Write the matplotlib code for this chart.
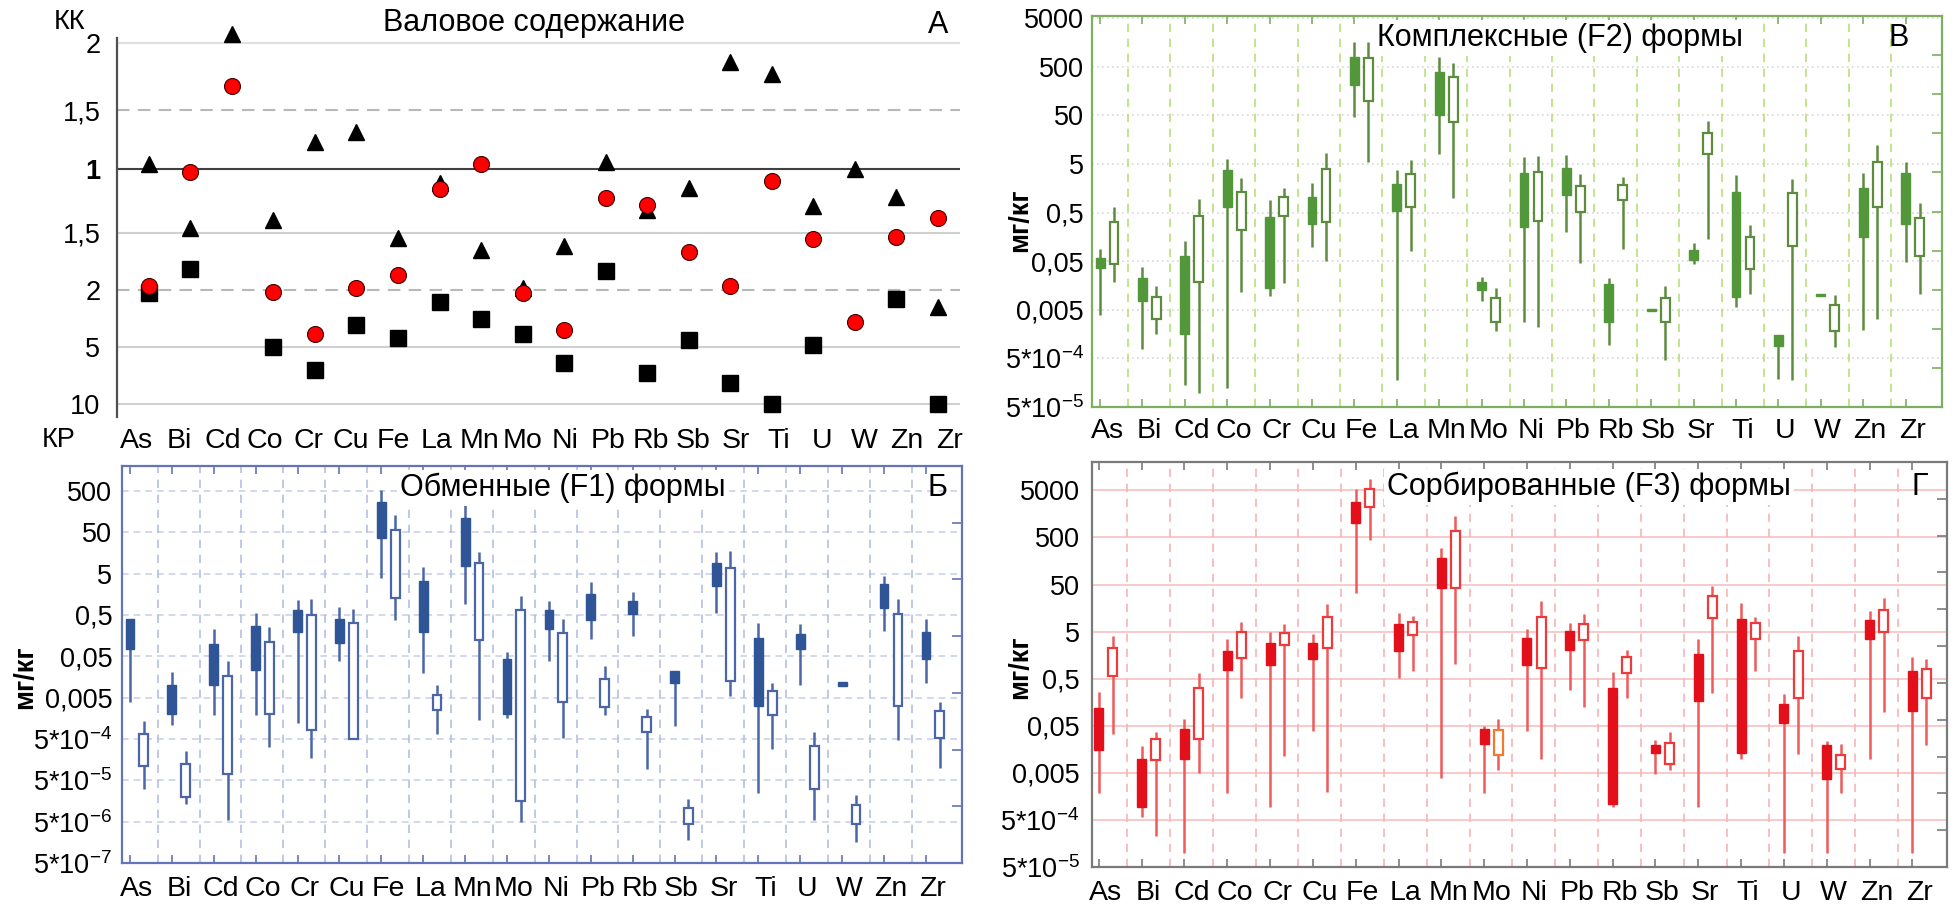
import numpy as np
import matplotlib
matplotlib.use("Agg")
import matplotlib.pyplot as plt

plt.rcParams['font.family'] = ['Liberation Sans', 'DejaVu Sans']
plt.rcParams['mathtext.fontset'] = 'custom'
plt.rcParams['mathtext.rm'] = 'Liberation Sans'
plt.rcParams['mathtext.it'] = 'Liberation Sans:italic'
plt.rcParams['mathtext.bf'] = 'Liberation Sans:bold'

# ---------------- data ----------------
elements = ['As', 'Bi', 'Cd', 'Co', 'Cr', 'Cu', 'Fe', 'La', 'Mn', 'Mo',
            'Ni', 'Pb', 'Rb', 'Sb', 'Sr', 'Ti', 'U', 'W', 'Zn', 'Zr']

# Panel A: ratio to background (>1 -> KK, <1 -> 1/KP)
gross_triangle = [1.04, 0.685, 2.07, 0.714, 1.23, 1.31, 0.649, 0.90, 0.606, 0.505,
                  0.621, 1.06, 0.758, 0.87, 1.86, 1.77, 0.775, 1.0, 0.82, 0.346]
gross_circle = [0.51, 0.98, 1.68, 0.476, 0.233, 0.505, 0.535, 0.862, 1.04, 0.463,
                0.244, 0.813, 0.78, 0.60, 0.51, 0.917, 0.645, 0.27, 0.65, 0.725]
gross_square = [0.463, 0.552, np.nan, 0.20, 0.143, 0.26, 0.222, 0.38, 0.283, 0.233,
                0.156, 0.546, 0.137, 0.217, 0.122, 0.10, 0.204, np.nan, 0.405, 0.10]

# Panel B: complex (F2) forms, mg/kg
f2_solid_max = [0.089, 0.038, 0.13, 6.2, 0.89, 1.98, 1600, 3.8, 800, 0.0235,
                6.9, 7.6, 0.0228, 0.0053, 0.117, 2.9, 0.0015, 0.0107, 3.3, 5.5]
f2_solid_hi = [0.0585, 0.022, 0.065, 3.7, 0.41, 1.04, 800, 1.9, 383, 0.0186,
               3.2, 4.1, 0.0172, 0.0053, 0.085, 1.33, 0.0015, 0.0107, 1.6, 3.2]
f2_solid_lo = [0.036, 0.0076, 0.00157, 0.66, 0.0143, 0.29, 205, 0.54, 51, 0.0126,
               0.255, 1.12, 0.0028, 0.0048, 0.053, 0.0092, 9.2e-4, 0.0095, 0.16, 0.29]
f2_solid_min = [0.0039, 0.00077, 1.4e-4, 1.24e-4, 0.0095, 0.096, 45, 1.8e-4, 7.9, 0.0076,
                0.0028, 0.2, 0.00095, 0.0048, 0.0428, 0.0058, 1.9e-4, 0.0095, 0.0019, 0.048]
f2_open_max = [0.66, 0.0154, 0.93, 2.6, 1.57, 8.5, 1600, 5.9, 600, 0.0143,
               7.2, 3.1, 2.7, 0.0154, 39, 0.28, 2.5, 0.00995, 12, 0.77]
f2_open_hi = [0.32, 0.0092, 0.43, 1.3, 1.05, 4.0, 760, 3.1, 300, 0.0088,
              3.4, 1.75, 1.83, 0.0088, 21.7, 0.154, 1.27, 0.0062, 5.5, 0.38]
f2_open_lo = [0.044, 0.0033, 0.0186, 0.22, 0.415, 0.32, 96, 0.66, 36.5, 0.0028,
              0.33, 0.52, 0.9, 0.0028, 8.1, 0.035, 0.1, 0.0018, 0.66, 0.063]
f2_open_min = [0.0186, 0.00157, 9.5e-5, 0.0117, 0.0178, 0.05, 5.5, 0.079, 0.98, 0.0018,
               0.00225, 0.046, 0.089, 4.7e-4, 0.143, 0.0104, 1.8e-4, 8.5e-4, 0.0033, 0.0107]

# Panel Б: exchangeable (F1) forms, mg/kg
f1_solid_max = [0.394, 0.0204, 0.226, 0.57, 1.15, 0.77, 538, 7.3, 234, 0.063,
                1.09, 3.2, 1.77, 0.0216, 16.9, 0.316, 0.31, 0.0117, 4.4, 0.394]
f1_solid_hi = [0.394, 0.0103, 0.1, 0.272, 0.64, 0.40, 262, 3.4, 112, 0.0428,
               0.64, 1.58, 1.11, 0.0216, 8.8, 0.137, 0.171, 0.0117, 2.75, 0.19]
f1_solid_lo = [0.076, 0.00202, 0.0103, 0.0228, 0.188, 0.104, 36.8, 0.188, 7.6, 0.00202,
               0.23, 0.38, 0.52, 0.0113, 2.5, 0.0032, 0.076, 0.0094, 0.75, 0.0428]
f1_solid_min = [0.0039, 0.00108, 0.00195, 0.00195, 0.00122, 0.039, 4.0, 0.0197, 0.92, 0.00162,
                0.0395, 0.132, 0.156, 0.00102, 0.55, 2.5e-5, 0.0099, 0.0094, 0.2, 0.0113]
f1_open_max = [0.00139, 2.54e-4, 0.039, 0.253, 1.2, 0.70, 134, 0.0099, 16.9, 1.47,
               0.394, 0.0285, 0.00267, 1.8e-5, 17.6, 0.0113, 7.3e-4, 2.2e-5, 1.22, 0.00385]
f1_open_hi = [6.65e-4, 1.21e-4, 0.017, 0.11, 0.5, 0.316, 56, 0.0059, 8.8, 0.64,
              0.181, 0.0144, 0.00168, 1.09e-5, 6.9, 0.0074, 3.35e-4, 1.24e-5, 0.52, 0.00234]
f1_open_lo = [1.1e-4, 1.97e-5, 7.2e-5, 0.00202, 8.1e-4, 5e-4, 1.27, 0.00248, 0.121, 1.58e-5,
              0.00385, 0.0029, 7.3e-4, 4.3e-6, 0.0124, 0.00188, 3.1e-5, 4.3e-6, 0.0032, 5.3e-4]
f1_open_min = [3.0e-5, 1.36e-5, 5.4e-6, 3.17e-4, 1.75e-4, 5e-4, 0.38, 6.65e-4, 0.00147, 4.9e-6,
               5.3e-4, 0.00188, 9.2e-5, 1.8e-6, 0.0054, 2.8e-4, 5.5e-6, 1.6e-6, 4.85e-4, 9.7e-5]

# Panel Г: sorbed (F3) forms, mg/kg
f3_solid_max = [0.265, 0.0189, 0.069, 3.44, 4.9, 4.5, 5250, 12.6, 298, 0.05,
                5.6, 7.7, 0.68, 0.0253, 3.44, 20.5, 0.237, 0.0241, 13.7, 1.41]
f3_solid_hi = [0.118, 0.0099, 0.0425, 1.95, 2.93, 2.93, 2880, 7.4, 183, 0.0425,
               3.73, 5.1, 0.313, 0.0199, 1.66, 9.4, 0.144, 0.0199, 8.7, 0.73]
f3_solid_lo = [0.0156, 9.4e-4, 0.0096, 0.76, 0.97, 1.3, 1005, 1.92, 41.9, 0.0205,
               0.97, 2.02, 0.0011, 0.0132, 0.171, 0.0132, 0.0569, 0.0037, 3.44, 0.104]
f3_solid_min = [0.00189, 5.8e-4, 9.7e-5, 0.00189, 9.4e-4, 0.038, 33.3, 0.51, 0.0038, 0.00189,
                0.039, 0.288, 9.6e-4, 0.0048, 9.4e-4, 0.0096, 9.7e-5, 9.7e-5, 0.0099, 9.7e-5]
f3_open_max = [3.98, 0.0367, 0.65, 8.0, 7.1, 19.5, 8530, 10.7, 1435, 0.069,
               22.2, 11.6, 2.08, 0.036, 46, 10.2, 3.98, 0.0205, 26, 1.3]
f3_open_hi = [2.19, 0.0261, 0.313, 4.9, 4.76, 10.2, 5250, 8.0, 692, 0.0398,
              10.2, 7.1, 1.41, 0.0215, 28.4, 7.7, 1.95, 0.0118, 14.1, 0.8]
f3_open_lo = [0.578, 0.00927, 0.0261, 1.35, 2.57, 2.19, 2260, 4.2, 41.9, 0.0118,
              0.83, 3.39, 0.67, 0.0077, 9.9, 3.44, 0.192, 0.0061, 4.9, 0.192]
f3_open_min = [0.0339, 2.3e-4, 0.005, 0.192, 0.0112, 0.002, 440, 0.74, 1.05, 0.0057,
               0.01, 0.128, 0.199, 0.0057, 0.245, 0.74, 0.0126, 0.00189, 0.096, 0.0199]

log_ticks = [5e-7, 5e-6, 5e-5, 5e-4, 0.005, 0.05, 0.5, 5, 50, 500, 5000]
log_tick_labels = [r'5*10$^{\mathregular{-7}}$', r'5*10$^{\mathregular{-6}}$',
                   r'5*10$^{\mathregular{-5}}$', r'5*10$^{\mathregular{-4}}$',
                   '0,005', '0,05', '0,5', '5', '50', '500', '5000']

# ---------------- figure ----------------
W, H = 1959, 906
fig = plt.figure(figsize=(W / 100, H / 100), dpi=100)


def rect(l, t, r, b):
    return [l / W, 1 - b / H, (r - l) / W, (b - t) / H]


def fpos(x, y):
    return x / W, 1 - y / H


x = np.arange(len(elements))

# ---------------- Panel A ----------------
U_ANCH = np.array([-30, -9, -4, -1, -0.5, 0, 0.5, 1, 5])
P_ANCH = -np.array([643, 404, 347, 290, 233, 169, 110, 43, -493], dtype=float)


def fwd(v):
    v = np.maximum(np.asarray(v, dtype=float), 1e-3)
    u = np.where(v >= 1, v - 1, 1 - 1 / v)
    return np.interp(u, U_ANCH, P_ANCH)


def inv(p):
    u = np.interp(np.asarray(p, dtype=float), P_ANCH, U_ANCH)
    return np.where(u >= 0, 1 + u, 1 / (1 - u))


axA = fig.add_axes(rect(117, 38, 960, 417))
axA.set_yscale('function', functions=(fwd, inv))
axA.set_ylim(float(inv(-417)), float(inv(-38)))
axA.set_xlim(-0.77, 19.54)
for s in ['top', 'right', 'bottom']:
    axA.spines[s].set_visible(False)
axA.spines['left'].set_color('#505050')
axA.spines['left'].set_linewidth(1.6)

a_ticks = [0.1, 0.2, 0.5, 1 / 1.5, 1, 1.5, 2]
a_labels = ['10', '5', '2', '1,5', '1', '1,5', '2']
line_styles = {0.1: ('#d0d0d0', '-', 1.5), 0.2: ('#d0d0d0', '-', 1.5),
               0.5: ('#b8b8b8', (0, (6, 4)), 1.5), 1 / 1.5: ('#d0d0d0', '-', 1.5),
               1: ('#404040', '-', 1.5), 1.5: ('#b8b8b8', (0, (6, 4)), 1.5),
               2: ('#e0e0e0', '-', 1.5)}
for t in a_ticks:
    c, ls, lw = line_styles[t]
    axA.axhline(t, color=c, ls=ls, lw=lw, zorder=1)
axA.set_yticks(a_ticks)
axA.set_yticklabels(a_labels, fontsize=19.5)
for lab in axA.get_yticklabels():
    if lab.get_text() == '1':
        lab.set_fontweight('bold')
axA.tick_params(axis='y', length=0, pad=12)
# tick labels drift slightly wider than the marker spacing in the original
axA.set_xticks(x * 1.031 - 0.29)
axA.set_xticklabels(elements, fontsize=20.5)
axA.tick_params(axis='x', length=0, pad=8)

axA.plot(x, gross_square, ls='none', marker='s', ms=11.5, color='black', zorder=3, clip_on=False)
axA.plot(x, gross_triangle, ls='none', marker='^', ms=11.5, color='black', zorder=4, clip_on=False)
axA.plot(x, gross_circle, ls='none', marker='o', ms=11.5, mfc='#ff0000', mec='#400000',
         mew=0.8, zorder=5, clip_on=False)

fig.text(*fpos(534, 23), 'Валовое содержание', fontsize=22, ha='center', va='center')
fig.text(*fpos(938, 25), 'А', fontsize=22, ha='center', va='center')
fig.text(*fpos(70, 22), 'КК', fontsize=19.5, ha='center', va='center')
fig.text(*fpos(59, 440), 'КР', fontsize=19.5, ha='center', va='center')


# ---------------- candle panels ----------------
def candle_panel(box, xlim, ylim, solid, opened, style, title, title_xy, letter, letter_xy,
                 ylab_xy, n_right, ypad, xpad):
    ax = fig.add_axes(rect(*box))
    ax.set_yscale('log')
    ax.set_xlim(*xlim)
    ax.set_ylim(*ylim)
    for s in ax.spines.values():
        s.set_color(style['spine'])
        s.set_linewidth(1.6)
    for t in log_ticks:
        if ylim[0] * 1.01 < t < ylim[1] * 0.99:
            ax.axhline(t, color=style['hgrid'], ls=style['hls'], lw=style['hlw'], zorder=0)
    for i in range(len(elements) - 1):
        ax.axvline(i + 0.66, color=style['vgrid'], ls=(0, (5, 4)), lw=1.2, zorder=0)
    off = 0.33
    wid = 0.21
    for xs, (mx, hi, lo, mn), filled in [(x, solid, True), (x + off, opened, False)]:
        mx, hi, lo, mn = map(np.asarray, (mx, hi, lo, mn))
        ax.vlines(xs, mn, mx, color=style['whisk'], lw=1.8, zorder=2)
        if filled:
            ax.bar(xs, hi - lo, bottom=lo, width=wid, color=style['fill'],
                   edgecolor=style['fill'], lw=1.0, zorder=3)
        else:
            edges = [style.get('open_edges', {}).get(e, style['edge']) for e in elements]
            ax.bar(xs, hi - lo, bottom=lo, width=wid, color='white',
                   edgecolor=edges, lw=1.6, zorder=3)
    ticks = [t for t in log_ticks if ylim[0] * 0.99 <= t <= ylim[1]]
    labels = [log_tick_labels[log_ticks.index(t)] for t in ticks]
    ax.set_yticks(ticks)
    ax.set_yticklabels(labels, fontsize=19.5)
    ax.yaxis.set_minor_locator(matplotlib.ticker.NullLocator())
    ax.tick_params(axis='y', length=0, pad=ypad)
    ax.set_xticks(x + off / 2)
    ax.set_xticklabels(elements, fontsize=20.5)
    ax.tick_params(axis='x', which='major', length=0, pad=xpad)
    ax.set_xticks(x, minor=True)
    ax.tick_params(axis='x', which='minor', direction='in', length=6, width=1.2,
                   color=style['spine'], top=True, bottom=True)
    tw = ax.twinx()
    tw.set_ylim(0, n_right)
    tw.set_yticks(range(1, n_right))
    tw.tick_params(axis='y', direction='in', length=7, width=1.2, labelright=False,
                   color=style['spine'])
    for s in tw.spines.values():
        s.set_visible(False)
    fig.text(*fpos(*title_xy), title, fontsize=22, ha='center', va='center',
             bbox=dict(facecolor='white', edgecolor='none', pad=2))
    fig.text(*fpos(*letter_xy), letter, fontsize=22, ha='center', va='center')
    fig.text(*fpos(*ylab_xy), 'мг/кг', fontsize=19.5, fontweight='bold', rotation=90,
             ha='center', va='center')
    return ax


green = dict(spine='#7fae60', hgrid='#d8d8d8', hls=(0, (1, 2)), hlw=1.2, vgrid='#b6e07a',
             whisk='#5d8c3f', fill='#52973a', edge='#5d8c3f')
blue = dict(spine='#6474b8', hgrid='#c9d2ea', hls=(0, (4, 3)), hlw=1.2, vgrid='#b4c0e0',
            whisk='#4a65a8', fill='#2f5597', edge='#4a65a8')
red = dict(spine='#7a7a7a', hgrid='#f8caca', hls='-', hlw=1.4, vgrid='#f7b4b4',
           whisk='#f05a5a', fill='#e3101c', edge='#ee3a3a', open_edges={'Mo': '#f07a30'})

candle_panel((1092, 16, 1942, 407), (-0.19, 19.86), (5e-5, 5500),
             (f2_solid_max, f2_solid_hi, f2_solid_lo, f2_solid_min),
             (f2_open_max, f2_open_hi, f2_open_lo, f2_open_min), green,
             'Комплексные (F2) формы', (1560, 38), 'В', (1899, 38), (1020, 220), 10, 6, 8)

candle_panel((122, 466, 962, 863), (-0.19, 19.86), (5e-7, 2000),
             (f1_solid_max, f1_solid_hi, f1_solid_lo, f1_solid_min),
             (f1_open_max, f1_open_hi, f1_open_lo, f1_open_min), blue,
             'Обменные (F1) формы', (563, 488), 'Б', (937, 488), (25, 677), 7, 7, 9)

candle_panel((1092, 462, 1947, 867), (-0.16, 19.81), (5e-5, 2e4),
             (f3_solid_max, f3_solid_hi, f3_solid_lo, f3_solid_min),
             (f3_open_max, f3_open_hi, f3_open_lo, f3_open_min), red,
             'Сорбированные (F3) формы', (1589, 487), 'Г', (1920, 487), (1020, 667), 11, 9, 9)

fig.savefig('out.png', dpi=100)
